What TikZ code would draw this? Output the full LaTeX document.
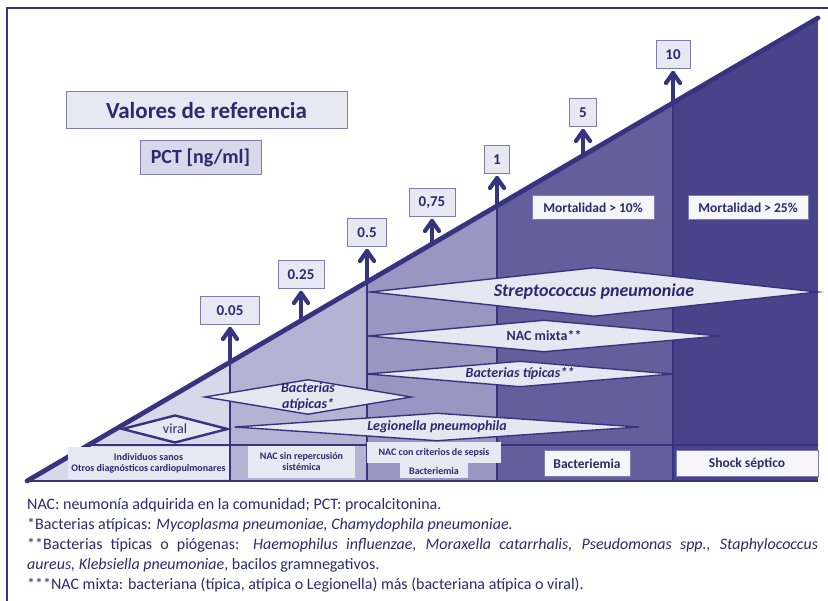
\documentclass[tikz,border=0pt]{standalone}
\usepackage{fontspec}
\setmainfont{Carlito}
\usetikzlibrary{shapes.geometric,positioning}
\definecolor{marino}{HTML}{2B2A6E}
\definecolor{linea}{HTML}{37347F}
\definecolor{zonaA}{HTML}{D9D8EA}
\definecolor{zonaB}{HTML}{B5B3D4}
\definecolor{zonaC}{HTML}{9A95C1}
\definecolor{zonaD}{HTML}{655E9C}
\definecolor{zonaE}{HTML}{48438A}
\definecolor{caja}{HTML}{E8E8F3}
\definecolor{borde}{HTML}{7E7BB6}
\definecolor{rombo}{HTML}{E7E7F2}

\tikzset{
  valor/.style={draw=borde,fill=caja,line width=1pt,text=marino,minimum height=28pt,inner xsep=0pt,font=\bfseries\fontsize{15}{15}\selectfont},
  flecha/.style={draw=linea,line width=4.2pt,line join=round,line cap=round},
  divisor/.style={draw=linea,line width=2pt},
  lozenge/.style={diamond,draw=linea,fill=rombo,line width=1.4pt,inner sep=0pt},
  rotulo/.style={text=marino,font=\bfseries\itshape\fontsize{14}{16}\selectfont,align=center},
  etiqueta/.style={fill=caja,text=marino,inner sep=0pt,align=center,font=\bfseries\fontsize{10}{11}\selectfont},
  mortal/.style={draw=borde,fill=white!60!caja,line width=1pt,text=marino,inner sep=0pt,font=\bfseries\fontsize{13.5}{14}\selectfont}
}

\begin{document}
\begin{tikzpicture}[x=1pt,y=-1pt]
\useasboundingbox (0,0) rectangle (828,601);
\draw[linea,line width=2.6pt] (7,601) -- (7,8) -- (828,8);

% escalera de zonas
\coordinate (izq) at (27,481);
\coordinate (cima) at (818,18);
\coordinate (dcha) at (818,481);
\begin{scope}
\clip (izq) -- (cima) -- (dcha) -- cycle;
\fill[zonaA] (27,0) rectangle (230,481);
\fill[zonaB] (230,0) rectangle (367,481);
\fill[zonaC] (367,0) rectangle (497,481);
\fill[zonaD] (497,0) rectangle (673,481);
\fill[zonaE] (673,0) rectangle (818,481);
\end{scope}

% divisiones
\foreach \px/\py in {230/362, 367/282, 497/206, 673/103}
  \draw[divisor] (\px,481) -- (\px,\py);

% flechas de valores
\foreach \nom/\px/\pb/\pt/\w/\val in {a/230/362/329/59/0.05, b/301/321/293/46/0.25, c/367/282/251/39/0.5,
  d/432/244/221/46/{0,75}, e/497/206/178/25/1, f/583/156/131/27/5, g/673/103/73/34/10}{
  \coordinate (pie-\nom) at (\px,\pb);
  \coordinate (punta-\nom) at (\px,\pt);
  \draw[flecha] (pie-\nom) -- (punta-\nom);
  \draw[flecha] ([shift={(-7,10)}]punta-\nom) -- (punta-\nom) -- ([shift={(7,10)}]punta-\nom);
  \node[valor,minimum width=\w pt,above=4pt of punta-\nom] (val-\nom) {\val};
}

\draw[linea,line width=4.8pt,line cap=round] (izq) -- (cima);
\draw[linea,line width=2pt] (izq) -- (dcha);
\coordinate (barra-i) at (88.5,445);
\coordinate (barra-d) at (818,445);
\draw[linea,line width=2.6pt] (barra-i) -- (barra-d);

\node[draw=borde,fill=caja,line width=1pt,text=marino,minimum width=281pt,minimum height=37pt,
  font=\bfseries\fontsize{23}{23}\selectfont] (titulo) at (206.5,110.5) {Valores de referencia};
\node[draw=borde,fill=zonaA,line width=1pt,text=marino,minimum width=121pt,minimum height=34pt,
  font=\bfseries\fontsize{20}{20}\selectfont] (unidad) at (200.5,158) {PCT [ng/ml]};

\node[mortal,minimum width=122pt,minimum height=24pt] (mort10) at (593,208) {Mortalidad > 10\%};
\node[mortal,minimum width=120pt,minimum height=24pt] (mort25) at (748,208) {Mortalidad > 25\%};

% rombos
\node[lozenge,minimum width=448pt,minimum height=49pt,
  label={[rotulo,font=\bfseries\itshape\fontsize{18}{18}\selectfont]center:Streptococcus pneumoniae}] (strep) at (594,292) {};
\node[lozenge,minimum width=352pt,minimum height=32pt,
  label={[rotulo,font=\bfseries\fontsize{14}{14}\selectfont]center:NAC mixta**}] (mixta) at (544,336) {};
\node[lozenge,minimum width=306pt,minimum height=26pt,label={[rotulo]center:Bacterias típicas**}] (tipicas) at (520,374) {};
\node[lozenge,minimum width=207pt,minimum height=35pt,label={[rotulo]center:Bacterias\\atípicas*}] (atipicas) at (308,397) {};
\node[lozenge,minimum width=405pt,minimum height=28pt,label={[rotulo]center:Legionella pneumophila}] (legio) at (437,427) {};
\node[lozenge,line width=2.4pt,minimum width=106pt,minimum height=28pt,
  label={[rotulo,font=\fontsize{14}{14}\selectfont]center:viral}] (viral) at (175,429) {};

% fila inferior
\node[etiqueta,minimum width=161pt,minimum height=32pt] (sanos) at (148.5,463) {Individuos sanos\\Otros diagnósticos cardiopulmonares};
\node[etiqueta,minimum width=107pt,minimum height=32pt] (sinrep) at (301.5,462) {NAC sin repercusión\\sistémica};
\node[etiqueta,minimum width=134pt,minimum height=21pt] (sepsis) at (434,452.5) {NAC con criterios de sepsis};
\node[etiqueta,minimum width=68pt,minimum height=15pt,below=0pt of sepsis] (bact1) {Bacteriemia};
\node[mortal,minimum width=86pt,minimum height=26pt] (bact2) at (587,464) {Bacteriemia};
\node[mortal,minimum width=142pt,minimum height=26pt] (shock) at (747,464) {Shock séptico};

% notas
\node[anchor=north west,align=left,inner sep=0pt,text=marino,font=\fontsize{16}{20}\selectfont] (notas) at (27,498)
{NAC: neumonía adquirida en la comunidad; PCT: procalcitonina.\\
*Bacterias atípicas: \textit{Mycoplasma pneumoniae, Chamydophila pneumoniae.}\\
\makebox[791pt][s]{**Bacterias típicas o piógenas: \textit{Haemophilus influenzae, Moraxella catarrhalis, Pseudomonas spp., Staphylococcus}}\\
\textit{aureus, Klebsiella pneumoniae}, bacilos gramnegativos.\\
***NAC mixta: bacteriana (típica, atípica o Legionella) más (bacteriana atípica o viral).};
\end{tikzpicture}
\end{document}
